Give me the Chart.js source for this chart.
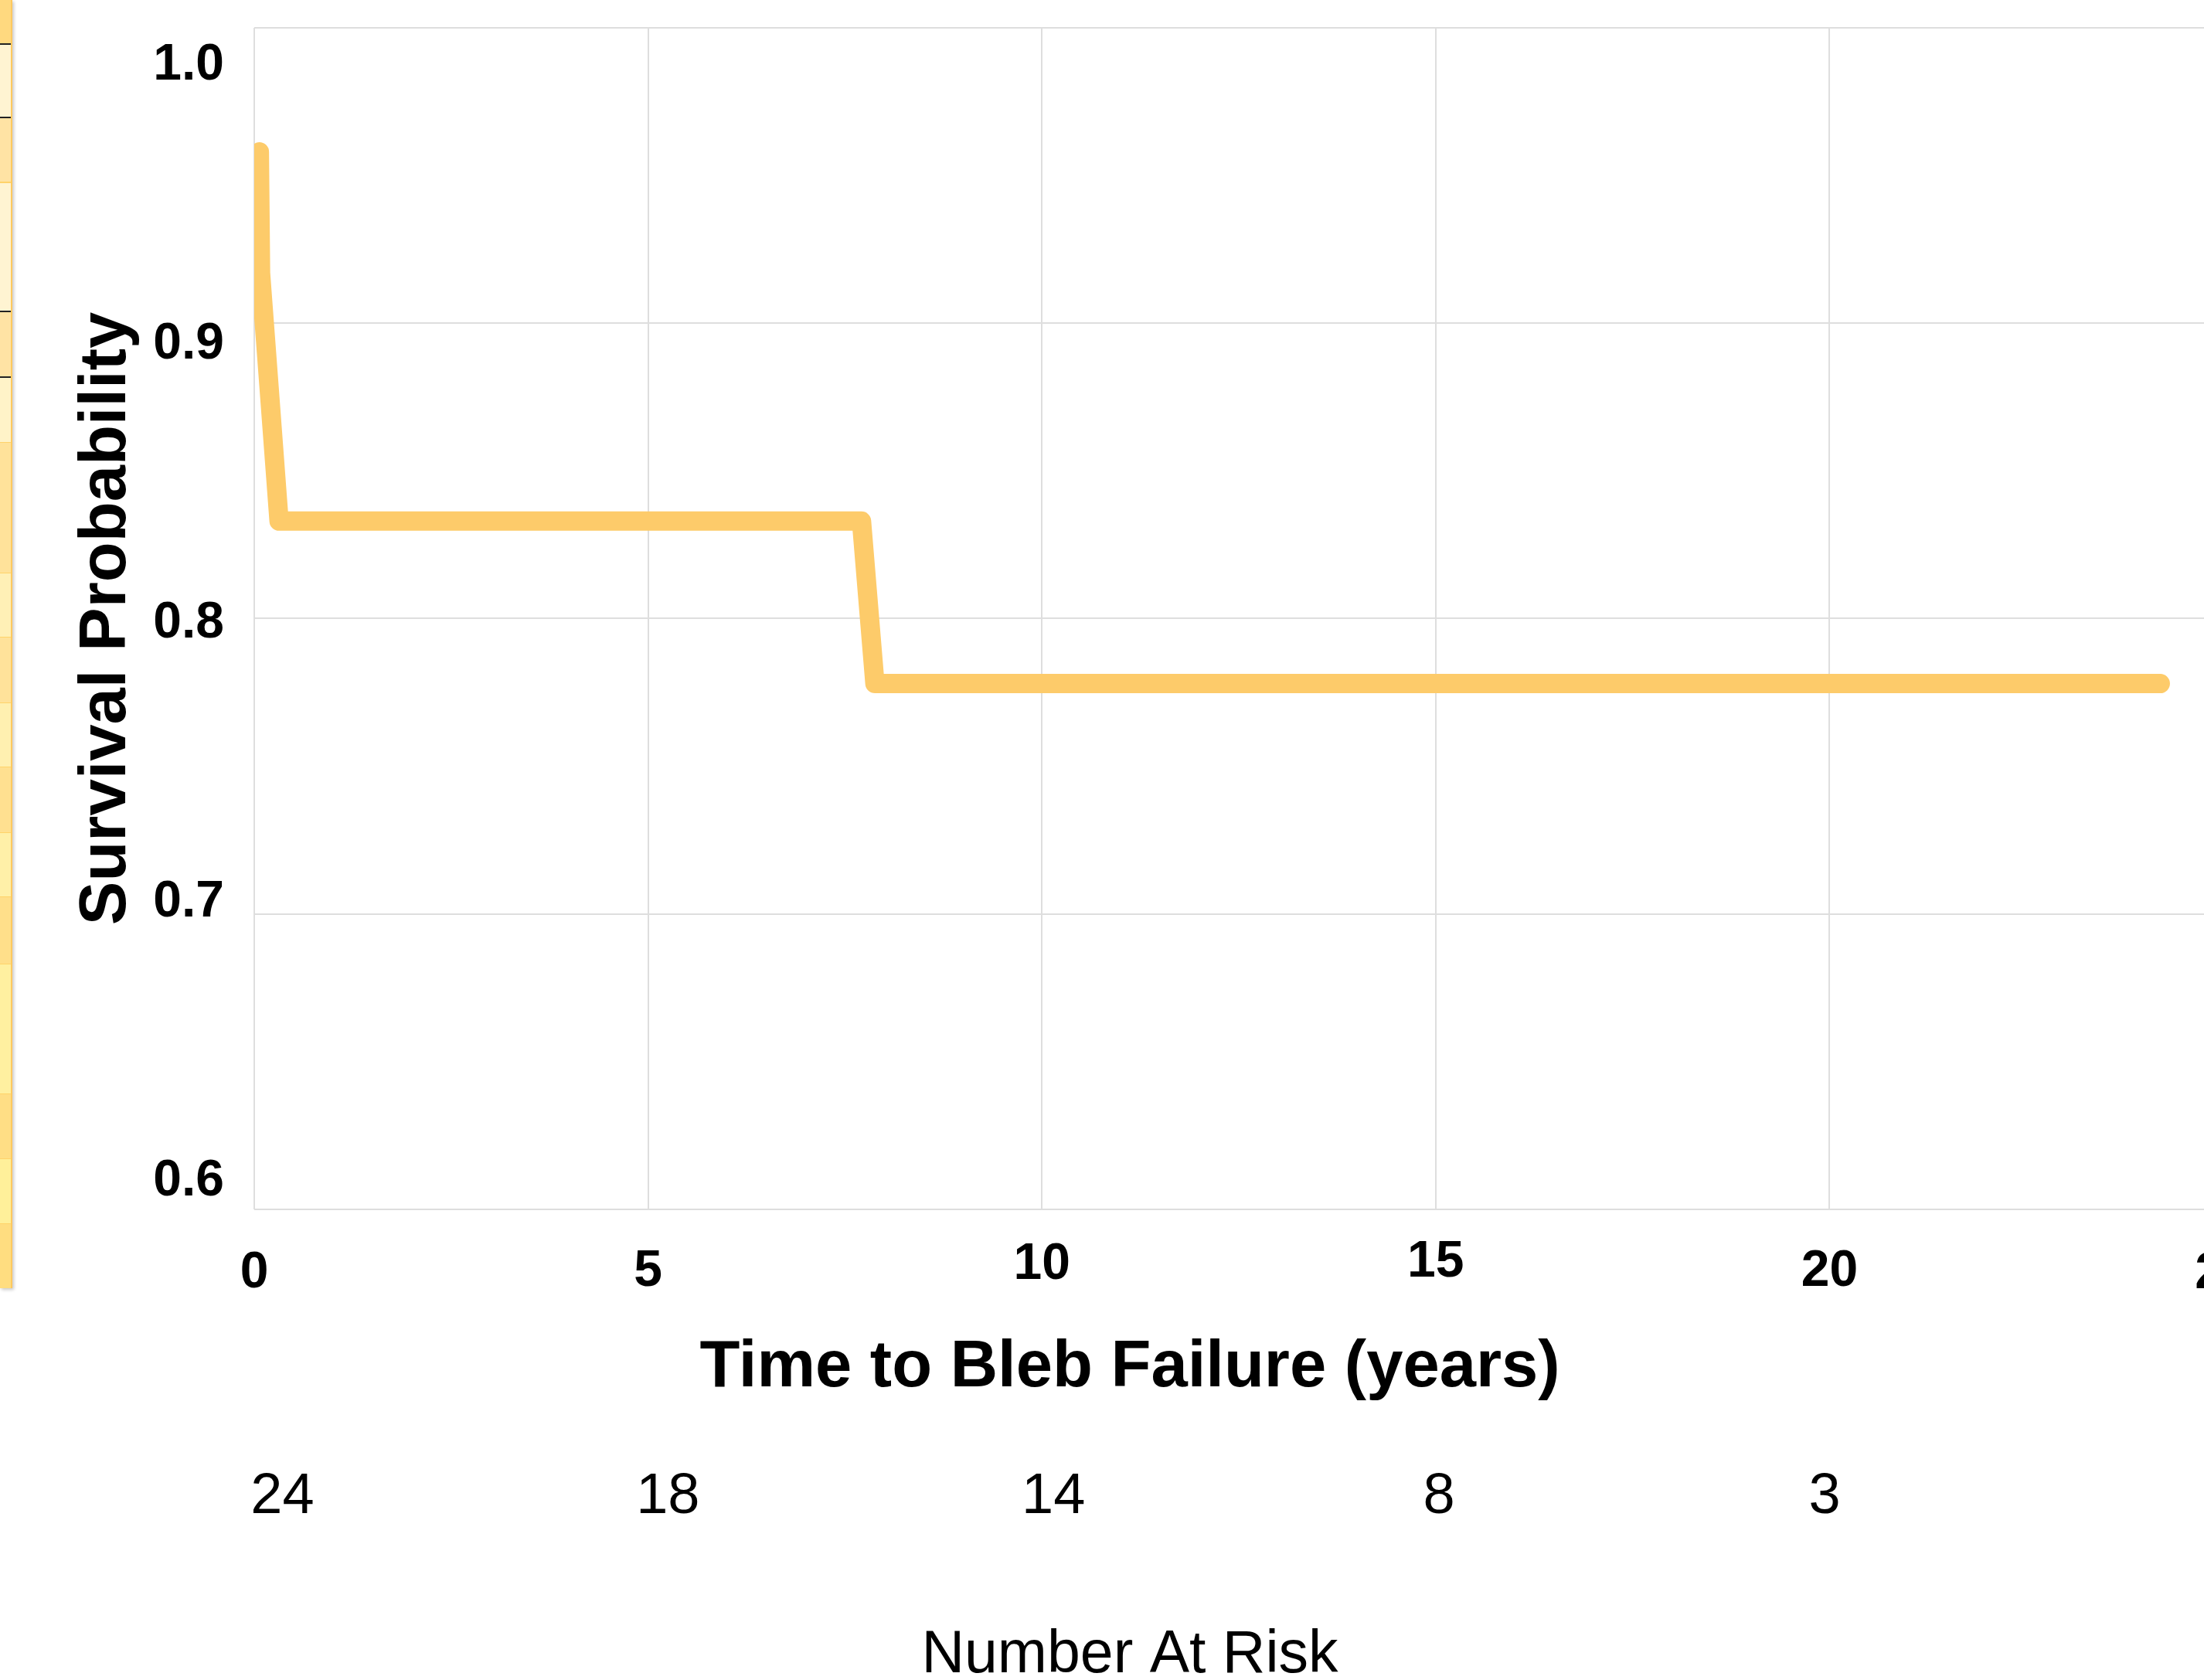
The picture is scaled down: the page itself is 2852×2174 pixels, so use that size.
<!DOCTYPE html>
<html>
<head>
<meta charset="utf-8">
<script src="https://cdn.jsdelivr.net/npm/chart.js@4/dist/chart.umd.min.js"></script>
<style>
html, body { margin: 0; padding: 0; width: 2852px; height: 2174px; overflow: hidden; background: #fff; }
#wrap { position: absolute; left: 0; top: 0; width: 2924px; height: 2174px; }
#strip {
  position: absolute; left: 0; top: 0; width: 14px; height: 1667px; z-index: 2;
  border-right: 2px solid #FFC95E;
  box-shadow: 2px 2px 4px rgba(0,0,0,0.22);
  background: linear-gradient(to bottom,
    #FFD97F 0px 56px, #222 56px 58px,
    #FFF4D2 58px 151px, #222 151px 153px,
    #FFE3A4 153px 235px, #FFD36A 235px 237px,
    #FFF4D2 237px 402px, #222 402px 404px,
    #FFE3A4 404px 487px, #222 487px 489px,
    #FFF3C8 489px 572px, #FFD36A 572px 573px,
    #FFE29A 573px 741px, #FFD36A 741px 742px,
    #FFF0B6 742px 824px, #FFD36A 824px 825px,
    #FFE29A 825px 909px, #FFD36A 909px 910px,
    #FFF0B0 910px 992px, #FFD36A 992px 993px,
    #FFE090 993px 1077px, #FFD36A 1077px 1078px,
    #FFF0A8 1078px 1160px, #FFD36A 1160px 1161px,
    #FFDF8A 1161px 1247px, #FFD36A 1247px 1248px,
    #FFF0A0 1248px 1415px, #FFD36A 1415px 1416px,
    #FFDE85 1416px 1499px, #FFD36A 1499px 1500px,
    #FFF09A 1500px 1583px, #FFD36A 1583px 1584px,
    #FFDD80 1584px 1667px);
}
</style>
</head>
<body>
<div id="strip"></div>
<div id="wrap"><canvas id="c" width="2924" height="2174"></canvas></div>
<script>
// ---- data ----
const timeYears    = [0.065, 0.08, 0.315, 7.71, 7.88, 24.2];
const survivalProb = [0.958, 0.917, 0.833, 0.833, 0.778, 0.778];
const xTicks       = [0, 5, 10, 15, 20, 25];
const yTicks       = [0.6, 0.7, 0.8, 0.9, 1.0];
const riskTimes    = [0, 5, 10, 15, 20];
const numberAtRisk = [24, 18, 14, 8, 3];
const xTitle    = 'Time to Bleb Failure (years)';
const yTitle    = 'Survival Probability';
const riskTitle = 'Number At Risk';

// ---- styling ----
const FONT = "'Liberation Sans', Arial, Helvetica, sans-serif";
const GRID = '#dedede';
const LINE = '#FDCB6A';
const xLabelLineHeights = [80, 76, 57, 52, 76, 82]; // staggered tick label heights

const ctx = document.getElementById('c').getContext('2d');
new Chart(ctx, {
  type: 'line',
  data: {
    datasets: [{
      data: timeYears.map((t, i) => ({ x: t, y: survivalProb[i] })),
      xAxisID: 'x', yAxisID: 'y',
      borderColor: LINE, backgroundColor: LINE,
      borderWidth: 25, borderCapStyle: 'round', borderJoinStyle: 'round',
      pointRadius: 0, pointHoverRadius: 0, tension: 0, fill: false
    }]
  },
  options: {
    responsive: false, animation: false, devicePixelRatio: 1,
    layout: { padding: { top: 36, left: 0, right: 0, bottom: 0 } },
    plugins: {
      legend: { display: false },
      tooltip: { enabled: false },
      title: {
        display: true, text: xTitle, position: 'bottom', weight: 1, fullSize: true,
        color: '#000', font: { family: FONT, size: 85, weight: 'bold', lineHeight: 1.2 },
        padding: { top: 35, bottom: 71.6 }
      },
      subtitle: {
        display: true, text: riskTitle, position: 'bottom', weight: 3, fullSize: true,
        color: '#000', font: { family: FONT, size: 77, weight: 'normal', lineHeight: 0.8 },
        padding: { top: 34.2, bottom: 0.2 }
      }
    },
    scales: {
      x: {
        type: 'linear', position: 'bottom', weight: 0, min: 0, max: 25,
        afterBuildTicks: s => { s.ticks = xTicks.map(v => ({ value: v })); },
        ticks: {
          autoSkip: false, maxRotation: 0, padding: 43, color: '#000',
          callback: v => String(v),
          font: c => ({ family: FONT, size: 66, weight: 'bold',
                        lineHeight: (xLabelLineHeights[c.index] || 80) + 'px' })
        },
        grid: { color: GRID, lineWidth: 2, drawTicks: false },
        border: { display: false },
        afterFit: s => { s.height = 120; s.paddingRight = 47; s.paddingLeft = 0; }
      },
      risk: {
        type: 'linear', position: 'bottom', weight: 2, min: -0.3648, max: 25.171,
        afterBuildTicks: s => { s.ticks = riskTimes.map(v => ({ value: v })); },
        ticks: {
          autoSkip: false, maxRotation: 0, padding: 0, color: '#000',
          callback: (v, i) => String(numberAtRisk[i]),
          font: { family: FONT, size: 74, weight: 'normal', lineHeight: 1.2 }
        },
        grid: { display: false, drawTicks: false },
        border: { display: false },
        afterFit: s => { s.height = 184.4; s.paddingRight = 0; s.paddingLeft = 0; }
      },
      y: {
        type: 'linear', position: 'left', weight: 0, min: 0.6, max: 1.0,
        afterBuildTicks: s => { s.ticks = yTicks.map(v => ({ value: v })); },
        ticks: { display: false },
        grid: { color: GRID, lineWidth: 2, drawTicks: false },
        border: { display: false },
        afterFit: s => { s.width = 0; s.paddingTop = 0; s.paddingBottom = 0; }
      },
      yLabels: {
        type: 'linear', position: 'left', weight: 1, min: 0.58989, max: 1.01344,
        afterBuildTicks: s => { s.ticks = yTicks.map(v => ({ value: v })); },
        ticks: {
          padding: 39, color: '#000',
          callback: v => Number(v).toFixed(1),
          font: { family: FONT, size: 66, weight: 'bold', lineHeight: 1 }
        },
        grid: { display: false, drawTicks: false },
        border: { display: false },
        title: {
          display: true, text: yTitle, color: '#000',
          font: { family: FONT, size: 85, weight: 'bold', lineHeight: 1.2 },
          padding: { top: 88, bottom: 0 }
        },
        afterFit: s => { s.width = 329; s.paddingTop = 0; s.paddingBottom = 0; }
      }
    }
  }
});
</script>
</body>
</html>
